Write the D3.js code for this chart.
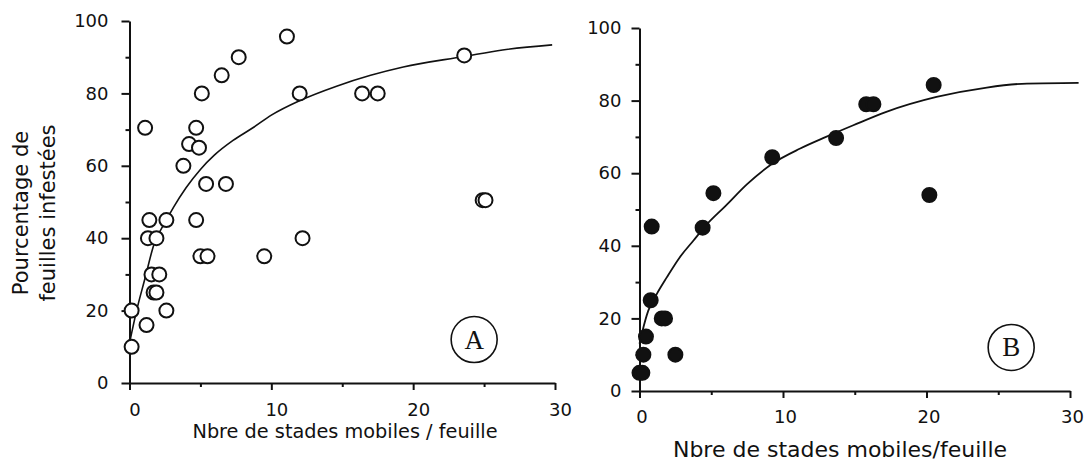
<!DOCTYPE html>
<html>
<head>
  <meta charset="utf-8">
  <title>Pourcentage de feuilles infestées</title>
  <script src="https://d3js.org/d3.v7.min.js"></script>
  <style>
    body { margin: 0; background: #fff; }
    text { font-family: "DejaVu Sans", "Open Sans", sans-serif; fill: #111; }
    .axis path, .axis line { stroke: #111; stroke-width: 2; }
    .axis text { font-size: 18px; fill: #111; }
  </style>
</head>
<body>
  <svg id="chart"></svg>
  <script>
    // panneau A : points observés (stades mobiles / feuille, % feuilles infestées)
    var ptsAx = [0.15, 0.15, 1.2, 2.6, 1.7, 1.9, 1.55, 2.1, 1.3, 1.9, 1.4, 2.6, 4.7, 5.0, 5.5, 9.5, 12.2,
                 1.1, 3.8, 4.2, 4.7, 4.9, 5.1, 5.4, 6.8, 6.5, 7.7, 11.1, 12.0, 16.4, 17.5, 23.6, 24.9, 25.1];
    var ptsAy = [10, 20, 16, 20, 25, 25, 30, 30, 40, 40, 45, 45, 45, 35, 35, 35, 40,
                 70.5, 60, 66, 70.5, 65, 80, 55, 55, 85, 90, 95.7, 80, 80, 80, 90.5, 50.5, 50.5];

    // panneau A : courbe ajustée
    var curveAx = [0, 0.5, 1.1, 1.7, 2.6, 3.1, 4, 5, 6, 7.3, 8.7, 10, 12, 14.6, 17, 19.3, 23.6, 26.3, 29.8];
    var curveAy = [11, 20, 29, 38, 45, 48.5, 54, 59, 63, 67, 70.5, 74, 78, 82, 85, 87.3, 90.2, 92, 93.4];

    // panneau B
    var ptsBx = [0, 0.2, 0.27, 0.45, 0.78, 0.85, 1.55, 1.78, 2.5, 4.4, 5.15, 9.25, 13.7, 15.8, 16.3, 20.2, 20.5];
    var ptsBy = [5, 5, 10, 15, 25, 45.3, 20, 20, 10, 45, 54.5, 64.4, 69.7, 79, 79, 54, 84.3];

    var curveBx = [0, 0.2, 0.6, 1.2, 1.9, 2.8, 3.75, 4.6, 6, 7.5, 9.25, 11.2, 13, 14.9, 17.2, 20.7, 24.2, 27, 30.6];
    var curveBy = [13, 16.4, 22, 26.7, 31.3, 36.8, 41.4, 45.5, 51, 57, 62.6, 66.8, 70, 73.2, 76.9, 81, 83.6, 84.7, 84.9];

    var xMajor = [0, 10, 20, 30];
    var xMinor = [5, 15, 25];
    var yMajor = [0, 20, 40, 60, 80, 100];
    var yMinor = [10, 30, 50, 70, 90];

    var width = 1087, height = 461;
    var svg = d3.select("#chart").attr("width", width).attr("height", height);

    function panneau(opt) {
      var x = d3.scaleLinear().domain([0, 30]).range([opt.x0, opt.x1]);
      var y = d3.scaleLinear().domain([0, 100]).range([opt.y0, opt.y1]);
      var g = svg.append("g");

      // axes (graduations principales + secondaires)
      g.append("g").attr("class", "axis").attr("transform", "translate(0," + opt.y0 + ")")
        .call(d3.axisBottom(x).tickValues(xMajor).tickSize(7).tickSizeOuter(0).tickPadding(opt.padX))
        .call(function(a) { a.selectAll("text").attr("dx", opt.dxTick); });
      g.append("g").attr("class", "axis").attr("transform", "translate(0," + opt.y0 + ")")
        .call(d3.axisBottom(x).tickValues(xMinor).tickSize(4).tickFormat(""))
        .call(function(a) { a.select(".domain").remove(); });
      g.append("g").attr("class", "axis").attr("transform", "translate(" + opt.x0 + ",0)")
        .call(d3.axisLeft(y).tickValues(yMajor).tickSize(8).tickSizeOuter(0).tickPadding(opt.padY));
      g.append("g").attr("class", "axis").attr("transform", "translate(" + opt.x0 + ",0)")
        .call(d3.axisLeft(y).tickValues(yMinor).tickSize(4).tickFormat(""))
        .call(function(a) { a.select(".domain").remove(); });

      // courbe
      var line = d3.line()
        .x(function(d) { return x(d[0]); })
        .y(function(d) { return y(d[1]); })
        .curve(d3.curveMonotoneX);
      g.append("path")
        .datum(d3.zip(opt.cx, opt.cy))
        .attr("d", line)
        .attr("fill", "none")
        .attr("stroke", "#111")
        .attr("stroke-width", opt.lw);

      // points
      g.selectAll("circle.pt")
        .data(d3.zip(opt.px, opt.py))
        .enter()
        .append("circle")
        .attr("class", "pt")
        .attr("cx", function(d) { return x(d[0]); })
        .attr("cy", function(d) { return y(d[1]); })
        .attr("r", 7)
        .attr("fill", opt.filled ? "#111" : "#fff")
        .attr("stroke", "#111")
        .attr("stroke-width", 2);

      // titre de l'axe x
      g.append("text")
        .attr("x", opt.titleX)
        .attr("y", opt.titleY)
        .attr("text-anchor", "middle")
        .style("font-size", opt.titleSize + "px")
        .text(opt.title);

      // lettre du panneau
      g.append("circle")
        .attr("cx", x(opt.letterPos[0])).attr("cy", y(opt.letterPos[1]))
        .attr("r", 23).attr("fill", "none").attr("stroke", "#111").attr("stroke-width", 1.6);
      g.append("text")
        .attr("x", x(opt.letterPos[0])).attr("y", y(opt.letterPos[1]) + 9)
        .attr("text-anchor", "middle")
        .style("font-family", "'Liberation Serif', 'DejaVu Serif', serif")
        .style("font-size", "27px")
        .text(opt.letter);
      return g;
    }

    panneau({
      x0: 129.5, x1: 555, y0: 383, y1: 21,
      px: ptsAx, py: ptsAy, cx: curveAx, cy: curveAy,
      filled: false, lw: 1.6, padX: 13, padY: 13, dxTick: 5,
      title: "Nbre de stades mobiles / feuille", titleX: 345, titleY: 438, titleSize: 19.3,
      letter: "A", letterPos: [24.3, 12]
    });

    panneau({
      x0: 639.5, x1: 1070, y0: 391, y1: 28,
      px: ptsBx, py: ptsBy, cx: curveBx, cy: curveBy,
      filled: true, lw: 1.8, padX: 12, padY: 10, dxTick: 2,
      title: "Nbre de stades mobiles/feuille", titleX: 840, titleY: 457, titleSize: 22,
      letter: "B", letterPos: [25.9, 12]
    });

    // titre de l'axe y (panneau A)
    var ylab = svg.append("g").attr("transform", "translate(0,213) rotate(-90)");
    ylab.append("text").attr("text-anchor", "middle").attr("y", 28)
      .style("font-size", "21px").text("Pourcentage de");
    ylab.append("text").attr("text-anchor", "middle").attr("y", 55)
      .style("font-size", "21px").text("feuilles infestées");
  </script>
</body>
</html>
